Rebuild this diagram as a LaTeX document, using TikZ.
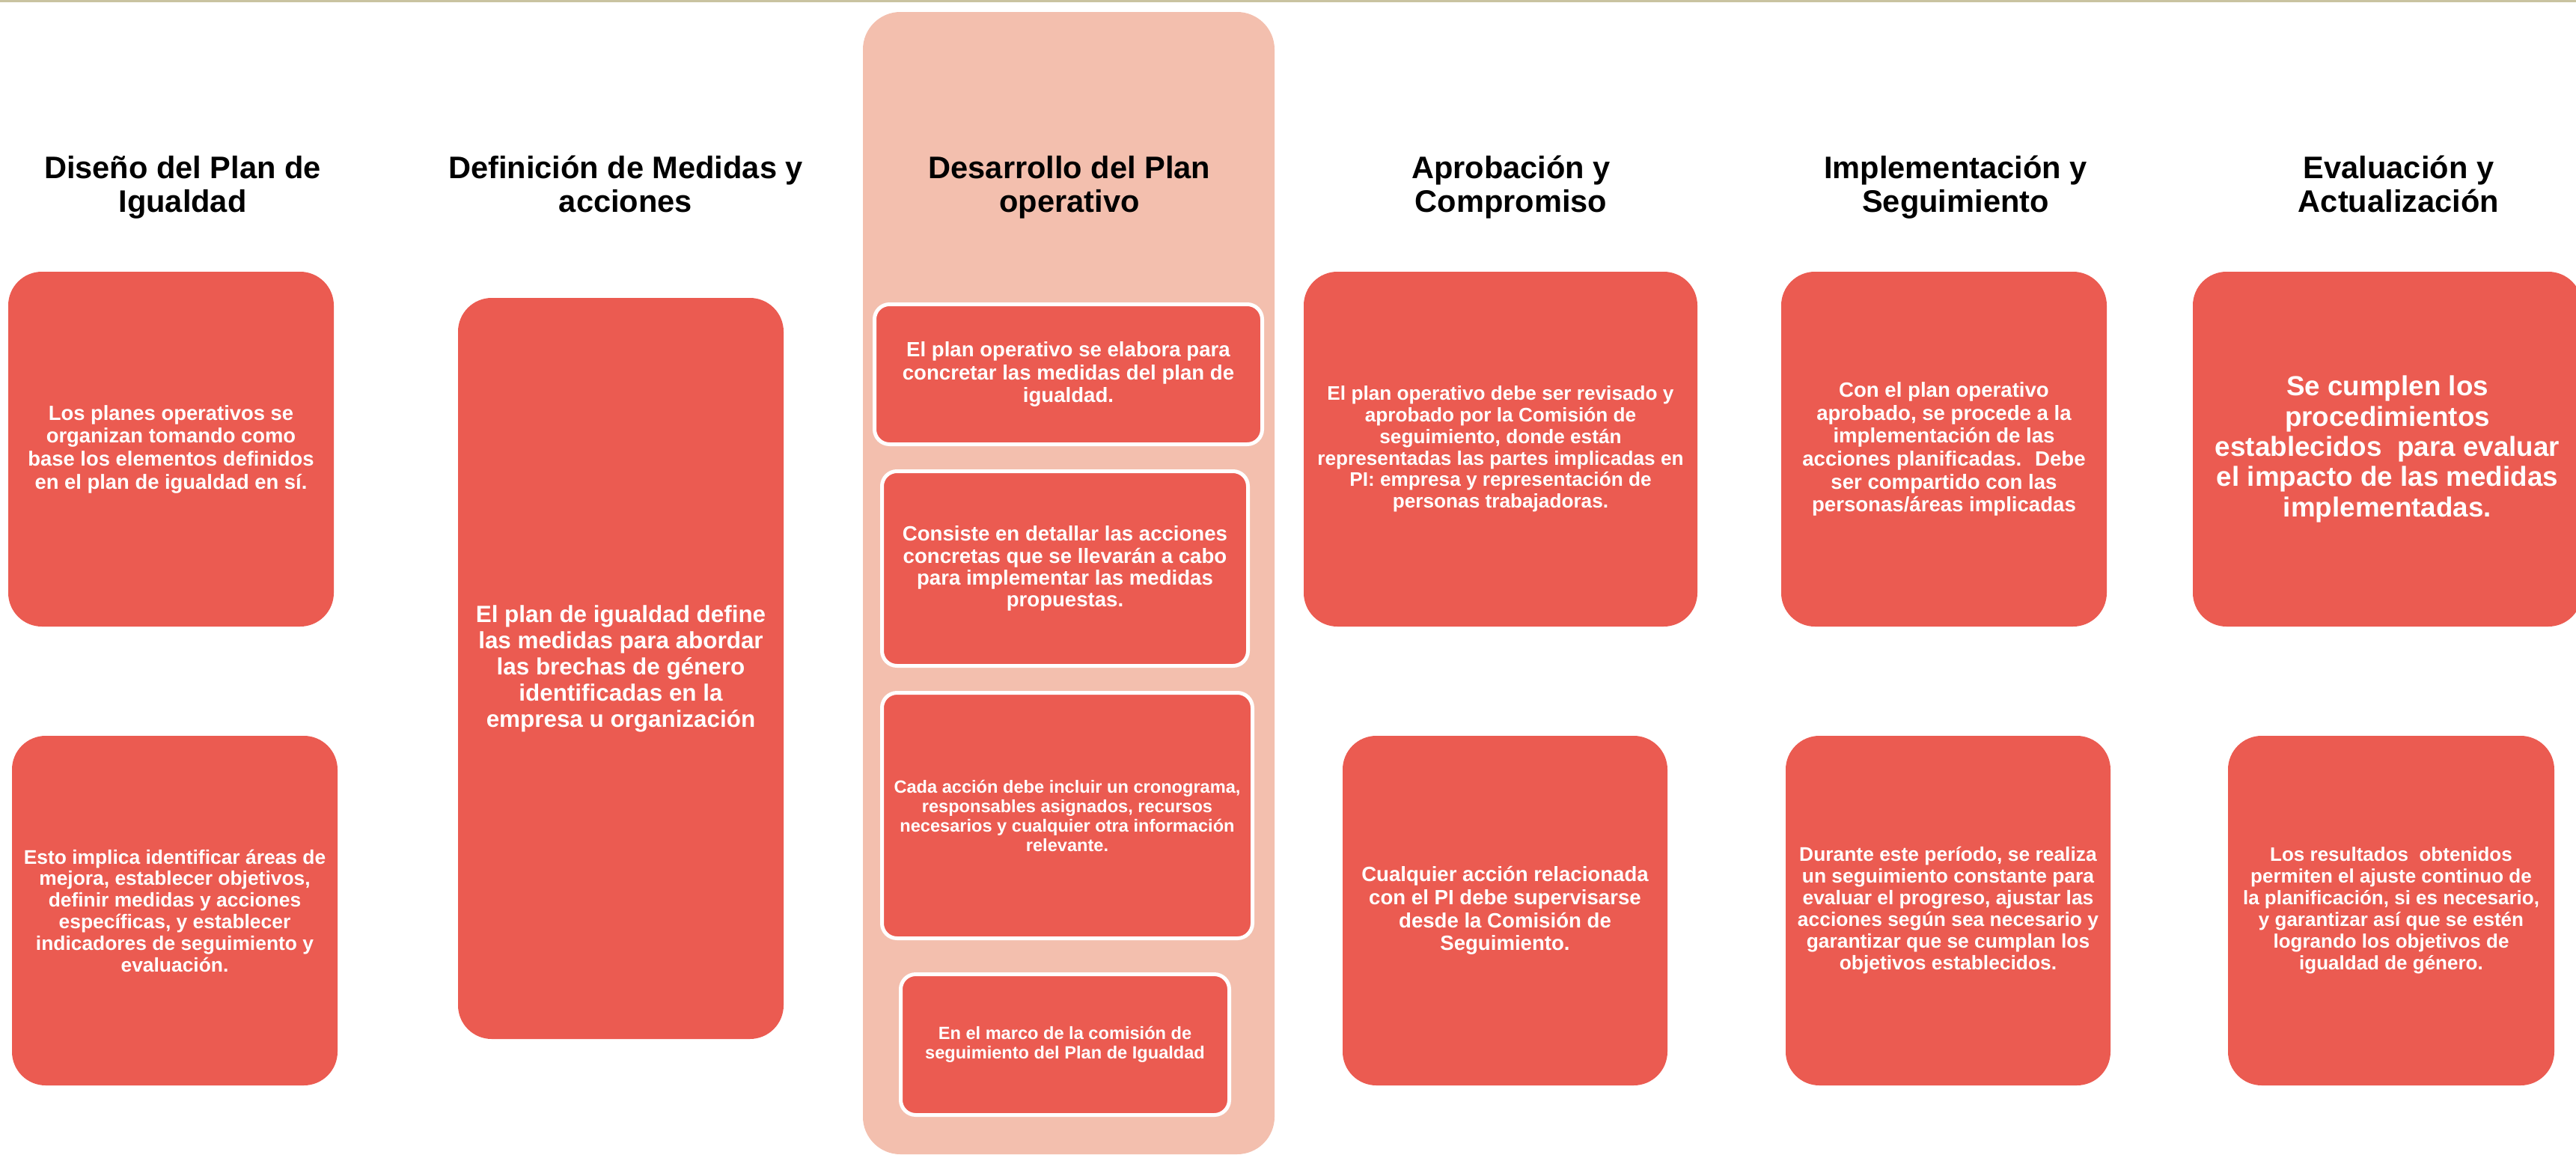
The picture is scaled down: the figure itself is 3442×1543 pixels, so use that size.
\documentclass[tikz,border=0pt]{standalone}
\usepackage{fontspec}
\setmainfont{Liberation Sans}
\definecolor{boxred}{HTML}{EB5B51}
\definecolor{bgpink}{HTML}{F3BFAE}
\definecolor{rulebeige}{HTML}{C9C3A1}
\newcommand\tightlines{\lineskiplimit-10pt\relax}
\begin{document}
\begin{tikzpicture}[x=0.25pt,y=-0.25pt,
every node/.style={%
anchor=center,
align=center,
inner sep=0pt,
},
head/.style={font=\fontsize{10.4pt}{11.25pt}\selectfont\tightlines\bfseries,text=black},
fs/.style 2 args={font=\fontsize{#1}{#2}\selectfont\tightlines\bfseries},
card/.style 2 args={fill=boxred,text=white,rounded corners=11.25pt,minimum width=#1*0.25pt,minimum height=#2*0.25pt},
inner/.style 2 args={fill=boxred,draw=white,line width=1.25pt,text=white,rounded corners=5pt,minimum width=(#1-5)*0.25pt,minimum height=(#2-5)*0.25pt},
bg/.style 2 args={fill=bgpink,rounded corners=12.5pt,minimum width=#1*0.25pt,minimum height=#2*0.25pt},
toprule/.style={draw=rulebeige,line width=0.75pt}
]
\useasboundingbox(0,0)rectangle(3442,1543);
\draw[toprule](0,1.5)--(3442,1.5);
\node[bg={550}{1526}]at(1428,779)(pk){};
\node[head]at(244,250)(t1){Diseño del Plan de\\Igualdad};
\node[head]at(836,245.5)(t2){Definición de Medidas y\\acciones};
\node[head]at(1429,250)(t3){Desarrollo del Plan\\operativo};
\node[head]at(2019,250)(t4){Aprobación y\\Compromiso};
\node[head]at(2613,250)(t5){Implementación y\\Seguimiento};
\node[head]at(3205,245.5)(t6){Evaluación y\\Actualización};
\node[card={435}{474},fs={6.85pt}{7.67pt}]at(228.5,600)(d1){Los planes operativos se\\organizan tomando como\\base los elementos definidos\\en el plan de igualdad en sí.};
\node[card={435}{467},fs={6.6pt}{7.2pt}]at(233.5,1216.5)(d2){Esto implica identificar áreas de\\mejora, establecer objetivos,\\definir medidas y acciones\\específicas, y establecer\\indicadores de seguimiento y\\evaluación.};
\node[card={435}{990},fs={7.85pt}{8.75pt}]at(829.5,893)(m1){El plan de igualdad define\\las medidas para abordar\\las brechas de género\\identificadas en la\\empresa u organización};
\node[inner={523}{192},fs={6.9pt}{7.6pt}]at(1427.5,500)(o1){El plan operativo se elabora para\\concretar las medidas del plan de\\igualdad.};
\node[inner={494}{265},fs={6.9pt}{7.3pt}]at(1423,759.5)(o2){Consiste en detallar las acciones\\concretas que se llevarán a cabo\\para implementar las medidas\\propuestas.};
\node[inner={500}{333},fs={5.9pt}{6.5pt}]at(1426,1089.5)(o3){Cada acción debe incluir un cronograma,\\responsables asignados, recursos\\necesarios y cualquier otra información\\relevante.};
\node[inner={444}{193},fs={5.9pt}{6.5pt}]at(1423,1395.5)(o4){En el marco de la comisión de\\seguimiento del Plan de Igualdad};
\node[card={526}{474},fs={6.55pt}{7.2pt}]at(2005,600)(a1){El plan operativo debe ser revisado y\\aprobado por la Comisión de\\seguimiento, donde están\\representadas las partes implicadas en\\PI: empresa y representación de\\personas trabajadoras.};
\node[card={434}{467},fs={6.9pt}{7.7pt}]at(2011,1216.5)(a2){Cualquier acción relacionada\\con el PI debe supervisarse\\desde la Comisión de\\Seguimiento.};
\node[card={435}{474},fs={6.9pt}{7.65pt}]at(2597.5,600)(i1){Con el plan operativo\\aprobado, se procede a la\\implementación de las\\acciones planificadas.~ Debe\\ser compartido con las\\personas/áreas implicadas};
\node[card={434}{467},fs={6.6pt}{7.25pt}]at(2603,1216.5)(i2){Durante este período, se realiza\\un seguimiento constante para\\evaluar el progreso, ajustar las\\acciones según sea necesario y\\garantizar que se cumplan los\\objetivos establecidos.};
\node[card={520}{474},fs={9.2pt}{10.1pt}]at(3190,600)(e1){Se cumplen los\\procedimientos\\establecidos~ para evaluar\\el impacto de las medidas\\implementadas.};
\node[card={436}{467},fs={6.5pt}{7.25pt}]at(3195,1216.5)(e2){Los resultados~ obtenidos\\permiten el ajuste continuo de\\la planificación, si es necesario,\\y garantizar así que se estén\\logrando los objetivos de\\igualdad de género.};
\end{tikzpicture}
\end{document}
